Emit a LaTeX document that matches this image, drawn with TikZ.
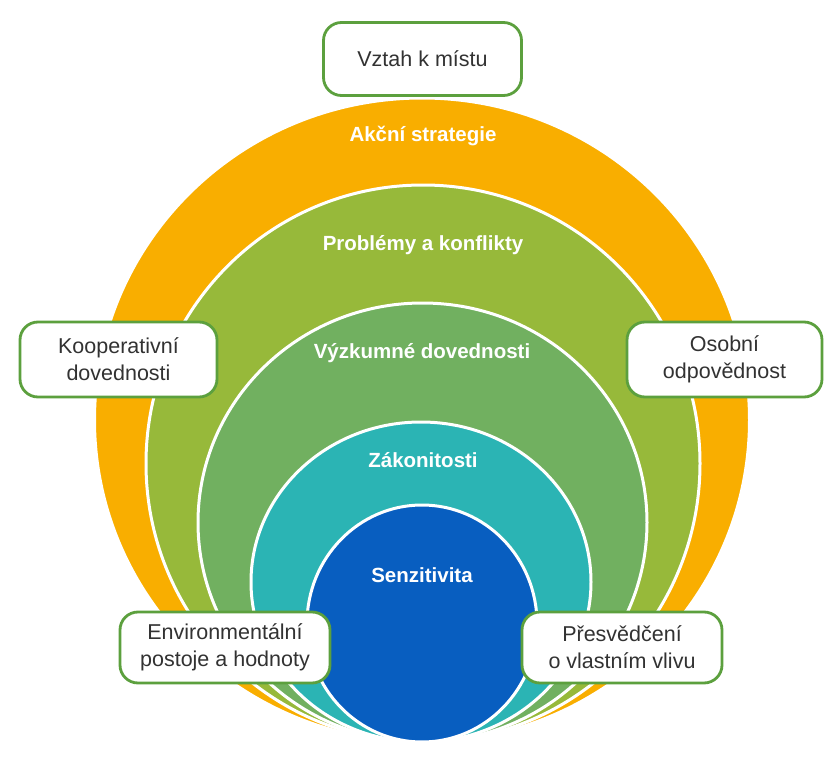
\documentclass[tikz,border=0pt]{standalone}
\usepackage{fontspec}
\setmainfont{Liberation Sans}
\definecolor{corange}{RGB}{249,174,0}
\definecolor{cyg}{RGB}{151,185,58}
\definecolor{cgreen}{RGB}{113,176,96}
\definecolor{cteal}{RGB}{43,180,180}
\definecolor{cblue}{RGB}{8,94,192}
\definecolor{boxgreen}{RGB}{92,160,62}
\definecolor{textgray}{RGB}{50,50,50}
\begin{document}
\begin{tikzpicture}[x=1pt,y=-1pt,
  ring/.style={draw=white, line width=3pt},
  ringlabel/.style={text=white, font=\bfseries\fontsize{20.5}{24}\selectfont},
  infobox/.style={draw=boxgreen, line width=2.8pt, fill=white, rounded corners=18pt,
    align=center, text=textgray, font=\fontsize{21.5}{27}\selectfont, inner sep=0pt}]
\useasboundingbox[fill=white] (0,0) rectangle (825,768);
% nested rings
\path[ring, fill=corange] (422,420) ellipse [x radius=327.5, y radius=322];
\path[ring, fill=cyg] (423,463.5) ellipse [x radius=277, y radius=278.5];
\path[ring, fill=cgreen] (422.5,522.5) ellipse [x radius=224.5, y radius=219.5];
\path[ring, fill=cteal] (421,582) ellipse [x radius=170, y radius=160];
\path[ring, fill=cblue] (422,623.5) ellipse [x radius=115, y radius=118.5];
% ring labels
\node[ringlabel] (l1) at (423,136) {Akční strategie};
\node[ringlabel] (l2) at (423,245) {Problémy a konflikty};
\node[ringlabel] (l3) at (422,353) {Výzkumné dovednosti};
\node[ringlabel] (l4) at (423,460) {Zákonitosti};
\node[ringlabel] (l5) at (422,575) {Senzitivita};
% boxes
\node[infobox, minimum width=198pt, minimum height=73pt] (b1) at (422.5,59) {Vztah k místu};
\node[infobox, minimum width=197pt, minimum height=75pt] (b2) at (118.5,359.5) {Kooperativní\\dovednosti};
\node[infobox, minimum width=195pt, minimum height=75pt] (b3) at (724.5,359.5) {Osobní\\odpovědnost};
\node[infobox, minimum width=210pt, minimum height=71pt] (b4) at (225,647.5) {Environmentální\\postoje a hodnoty};
\node[infobox, minimum width=200pt, minimum height=71pt] (b5) at (622,647.5) {Přesvědčení\\o vlastním vlivu};
\end{tikzpicture}
\end{document}
